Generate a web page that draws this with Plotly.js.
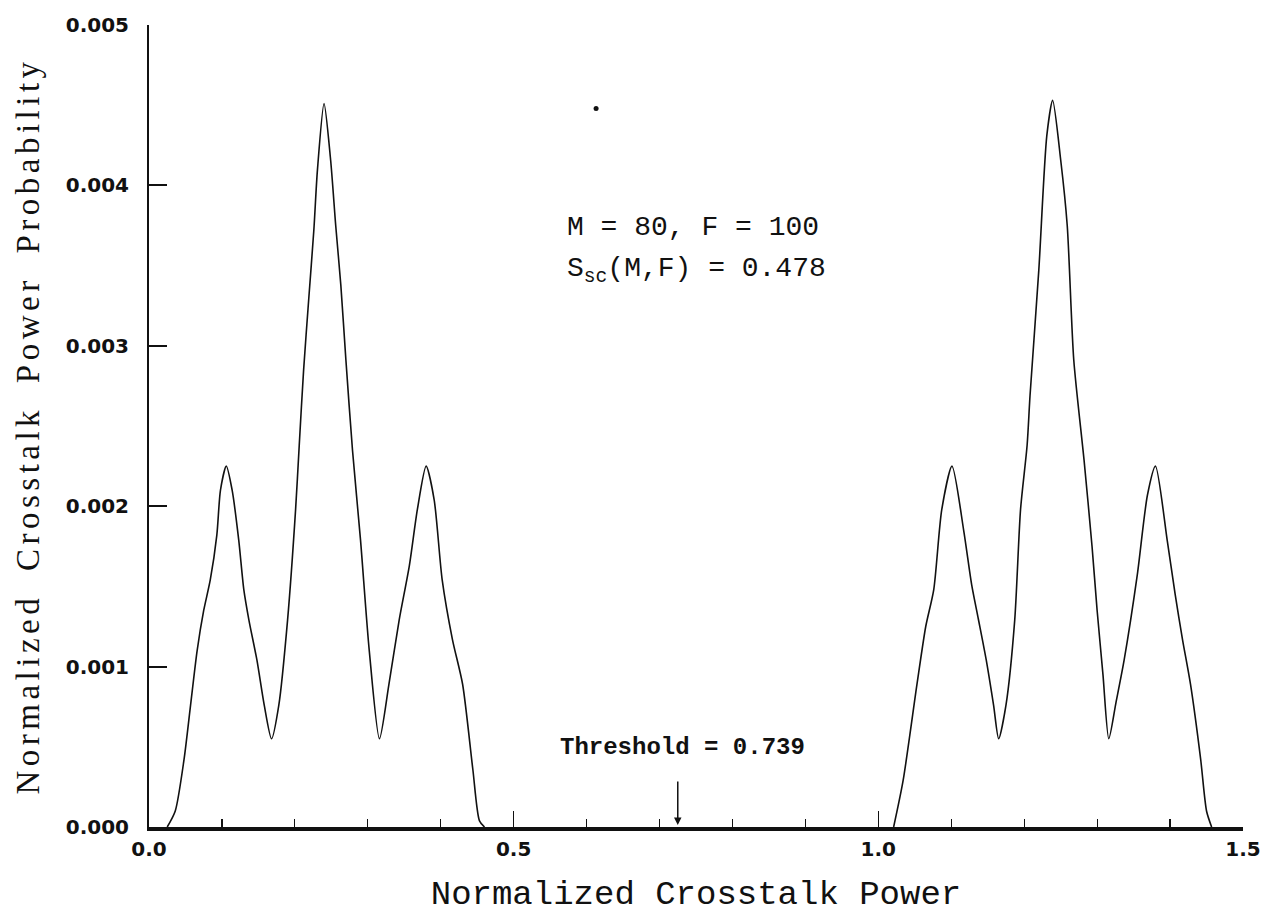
<!DOCTYPE html>
<html>
<head>
<meta charset="utf-8">
<script src="https://cdn.plot.ly/plotly-3.0.1.min.js"></script>
<style>
  html, body { margin: 0; padding: 0; background: #fff; }
  #chart { width: 1272px; height: 921px; }
  .ytitle { letter-spacing: 4.5px; word-spacing: 10px; }
</style>
</head>
<body>
<div id="chart"></div>
<script>
// Left cluster
const leftX = [0.025,0.036,0.048,0.057,0.066,0.075,0.084,0.093,0.098,0.106,0.114,0.123,0.130,0.137,0.148,0.158,0.168,0.178,0.190,0.201,0.206,0.212,0.219,0.226,0.231,0.240,0.249,0.256,0.263,0.270,0.279,0.290,0.302,0.316,0.329,0.343,0.357,0.368,0.380,0.391,0.402,0.416,0.430,0.444,0.453,0.460];
const leftY = [0,0.0001,0.00042,0.00076,0.0011,0.00135,0.00154,0.00182,0.0021,0.00225,0.0021,0.00179,0.00148,0.00129,0.00104,0.00076,0.00055,0.00076,0.00129,0.00198,0.00238,0.00285,0.00329,0.00372,0.0041,0.00451,0.00416,0.00375,0.00338,0.00291,0.00235,0.00179,0.0011,0.00055,0.00089,0.00129,0.00163,0.00198,0.00225,0.00204,0.00154,0.00117,0.00089,0.00036,0.00004,0];

// Right cluster
const rightX = [1.021,1.034,1.053,1.065,1.076,1.087,1.101,1.117,1.128,1.137,1.148,1.158,1.165,1.175,1.187,1.195,1.204,1.208,1.220,1.231,1.239,1.250,1.259,1.268,1.282,1.293,1.300,1.308,1.316,1.326,1.337,1.355,1.369,1.380,1.396,1.407,1.417,1.428,1.442,1.450,1.457];
const rightY = [0,0.00029,0.00089,0.00125,0.00148,0.00198,0.00225,0.00185,0.00151,0.00130,0.00104,0.00076,0.00055,0.00076,0.00129,0.00198,0.00238,0.00269,0.00347,0.00431,0.00453,0.00416,0.00375,0.00291,0.00229,0.00175,0.00135,0.00095,0.00055,0.00078,0.00104,0.00157,0.00207,0.00225,0.00179,0.00145,0.00117,0.00089,0.00042,0.00010,0];

// Stray speck in the print
const speckX = [0.613];
const speckY = [0.00448];

// Threshold
const thresholdX = 0.725;
const thresholdLabel = 'Threshold = 0.739';
const paramLabel1 = 'M = 80, F = 100';
const paramLabel2 = 'S<sub>sc</sub>(M,F) = 0.478';

const xTickVals = [0, 0.5, 1.0, 1.5];
const yTickVals = [0, 0.001, 0.002, 0.003, 0.004, 0.005];

const lineStyle = {color: '#111', width: 1.6, shape: 'spline', smoothing: 0.7};

const traces = [
  {x: leftX, y: leftY, mode: 'lines', line: lineStyle, hoverinfo: 'skip', showlegend: false},
  {x: rightX, y: rightY, mode: 'lines', line: lineStyle, hoverinfo: 'skip', showlegend: false},
  {x: speckX, y: speckY, mode: 'markers', marker: {color: '#111', size: 5}, hoverinfo: 'skip', showlegend: false}
];

const tickFont = {family: 'DejaVu Sans', size: 20, color: '#111', weight: 'bold'};

const layout = {
  width: 1272, height: 921,
  margin: {l: 149, r: 29, t: 25, b: 94},
  paper_bgcolor: '#fff', plot_bgcolor: '#fff',
  showlegend: false,
  xaxis: {
    range: [0, 1.5], tickvals: xTickVals, tickformat: '.1f',
    showgrid: false, zeroline: false,
    showline: true, linecolor: '#111', linewidth: 3.5,
    ticks: 'inside', ticklen: 16, tickwidth: 1.5, tickcolor: '#111',
    minor: {dtick: 0.1, ticks: 'inside', ticklen: 8, tickwidth: 1.2, tickcolor: '#111'},
    tickfont: tickFont, ticklabelstandoff: 1,
    title: {text: 'Normalized Crosstalk Power', font: {family: 'Liberation Mono', size: 34, color: '#111'}, standoff: 21}
  },
  yaxis: {
    range: [0, 0.005], tickvals: yTickVals, tickformat: '.3f',
    showgrid: false, zeroline: false,
    showline: true, linecolor: '#111', linewidth: 2,
    ticks: 'inside', ticklen: 18, tickwidth: 2, tickcolor: '#111',
    tickfont: tickFont, ticklabelstandoff: 14,
    title: {text: 'Normalized Crosstalk Power Probability', font: {family: 'Liberation Serif', size: 33, color: '#111'}, standoff: 16}
  },
  annotations: [
    {x: 0.571, y: 0.00374, xref: 'x', yref: 'y', xanchor: 'left', yanchor: 'middle', showarrow: false,
     text: paramLabel1, font: {family: 'Liberation Mono', size: 28, color: '#111'}},
    {x: 0.571, y: 0.00347, xref: 'x', yref: 'y', xanchor: 'left', yanchor: 'middle', showarrow: false,
     text: paramLabel2, font: {family: 'Liberation Mono', size: 28, color: '#111'}},
    {x: 0.561, y: 0.000495, xref: 'x', yref: 'y', xanchor: 'left', yanchor: 'middle', showarrow: false,
     text: thresholdLabel, font: {family: 'Liberation Mono', size: 24, color: '#111', weight: 'bold'}},
    {x: thresholdX, y: 0, xref: 'x', yref: 'y', ax: 0, ay: -47, text: '', showarrow: true,
     arrowhead: 2, arrowsize: 1, arrowwidth: 1.5, arrowcolor: '#111', standoff: 2}
  ]
};

Plotly.newPlot('chart', traces, layout, {displayModeBar: false, staticPlot: true});
</script>
</body>
</html>
